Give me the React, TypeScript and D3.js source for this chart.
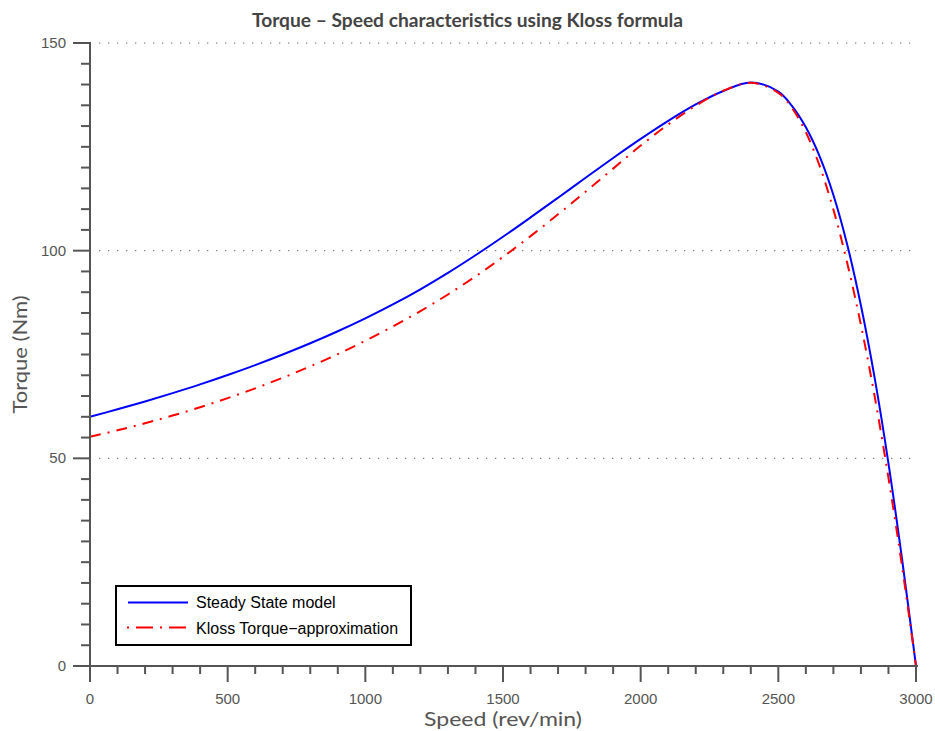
import React from "react";
import * as d3 from "d3";

const speedRpm = [0, 100, 200, 300, 400, 500, 600, 700, 800, 900, 1000, 1100, 1200, 1300, 1400, 1500, 1600, 1700, 1800, 1900, 2000, 2100, 2200, 2300, 2400, 2500, 2550, 2600, 2650, 2700, 2750, 2800, 2850, 2900, 2950, 3000];
const steadyState = [60.0, 61.8, 63.7, 65.7, 67.8, 70.05, 72.45, 75.0, 77.7, 80.6, 83.7, 87.05, 90.7, 94.65, 98.9, 103.35, 108.0, 112.75, 117.55, 122.3, 126.9, 131.25, 135.2, 138.45, 140.5, 138.3, 134.8, 129.7, 122.7, 113.4, 101.5, 86.8, 69.3, 48.8, 25.4, 0];
const klossApprox = [55.2, 56.75, 58.45, 60.3, 62.3, 64.5, 66.85, 69.4, 72.15, 75.1, 78.3, 81.75, 85.45, 89.45, 93.8, 98.5, 103.5, 108.75, 114.2, 119.75, 125.3, 130.4, 134.9, 138.5, 140.4, 138.0, 134.3, 128.5, 120.4, 109.9, 97.1, 82.1, 64.9, 45.3, 23.7, 0];
const xMajorTicks = [0, 500, 1000, 1500, 2000, 2500, 3000];
const yMajorTicks = [0, 50, 100, 150];
const gridTicks = [50, 100, 150];
const legendLabels = ["Steady State model", "Kloss Torque\u2212approximation"];

const W = 935;
const H = 731;
const M = { left: 90, right: 916, top: 43, bottom: 666 };

export default function App() {
  const x = d3.scaleLinear().domain([0, 3000]).range([M.left, M.right]);
  const y = d3.scaleLinear().domain([0, 150]).range([M.bottom, M.top]);
  const line = d3
    .line<number>()
    .x((_, i) => x(speedRpm[i]))
    .y((d) => y(d))
    .curve(d3.curveCatmullRom.alpha(0.5));

  const xMinor = d3.range(0, 3001, 100).filter((v) => v % 500 !== 0);
  const yMinor = d3.range(0, 151, 5).filter((v) => v % 50 !== 0);
  const axisColor = "#555";
  const tickFont = "'Liberation Sans', Arial, sans-serif";
  const gothic = "Lato, 'DejaVu Sans', sans-serif";

  return (
    <svg width={W} height={H} style={{ position: "absolute", left: 0, top: 0, background: "#fff" }}>
      <rect x={0} y={0} width={W} height={H} fill="#fff" />
      {/* grid */}
      {gridTicks.map((t) => (
        <line key={"g" + t} x1={x(0) + 9} x2={x(3000)} y1={y(t)} y2={y(t)} stroke="#666" strokeWidth={1} strokeDasharray="1.3,7.7" />
      ))}
      {/* curves */}
      <path d={line(steadyState) || ""} fill="none" stroke="#0000ff" strokeWidth={2} />
      <path d={line(klossApprox) || ""} fill="none" stroke="#ff0000" strokeWidth={2} strokeDasharray="11,7,2,7" />
      {/* axes */}
      <line x1={x(0)} x2={x(3000) + 2} y1={y(0)} y2={y(0)} stroke={axisColor} strokeWidth={2} />
      <line x1={x(0)} x2={x(0)} y1={y(150) - 1} y2={y(0)} stroke={axisColor} strokeWidth={2} />
      {xMajorTicks.map((t) => (
        <g key={"xt" + t}>
          <line x1={x(t)} x2={x(t)} y1={y(0)} y2={y(0) + 16} stroke={axisColor} strokeWidth={2} />
          <text x={x(t)} y={704} textAnchor="middle" fontFamily={tickFont} fontSize={15} fill={axisColor}>{t}</text>
        </g>
      ))}
      {xMinor.map((t) => (
        <line key={"xm" + t} x1={x(t)} x2={x(t)} y1={y(0)} y2={y(0) + 8} stroke={axisColor} strokeWidth={2} />
      ))}
      {yMajorTicks.map((t) => (
        <g key={"yt" + t}>
          <line x1={x(0) - 17} x2={x(0)} y1={y(t)} y2={y(t)} stroke={axisColor} strokeWidth={2} />
          <text x={66} y={y(t) + 5} textAnchor="end" fontFamily={tickFont} fontSize={15} fill={axisColor}>{t}</text>
        </g>
      ))}
      {yMinor.map((t) => (
        <line key={"ym" + t} x1={x(0) - 9} x2={x(0)} y1={y(t)} y2={y(t)} stroke={axisColor} strokeWidth={2} />
      ))}
      {/* title and labels */}
      <text x={467.5} y={27} textAnchor="middle" fontFamily={gothic} fontWeight="bold" fontSize={19} fill="#444" textLength={431} lengthAdjust="spacingAndGlyphs">
        Torque &#8211; Speed characteristics using Kloss formula
      </text>
      <text x={503} y={726} textAnchor="middle" fontFamily={gothic} fontSize={20} fill={axisColor} textLength={158} lengthAdjust="spacingAndGlyphs">
        Speed (rev/min)
      </text>
      <text transform={`translate(27,${(M.top + M.bottom) / 2}) rotate(-90)`} textAnchor="middle" fontFamily={gothic} fontSize={20} fill={axisColor} textLength={118} lengthAdjust="spacingAndGlyphs">
        Torque (Nm)
      </text>
      {/* legend */}
      <rect x={116} y={586} width={295} height={59} fill="#fff" stroke="#000" strokeWidth={2} />
      <line x1={128} x2={188} y1={602.5} y2={602.5} stroke="#0000ff" strokeWidth={2} />
      <line x1={127} x2={188} y1={627.5} y2={627.5} stroke="#ff0000" strokeWidth={2} strokeDasharray="2,7,17,7" />
      <text x={196} y={608} fontFamily={tickFont} fontSize={16} fill="#000">{legendLabels[0]}</text>
      <text x={196} y={634} fontFamily={tickFont} fontSize={16} fill="#000">{legendLabels[1]}</text>
    </svg>
  );
}
